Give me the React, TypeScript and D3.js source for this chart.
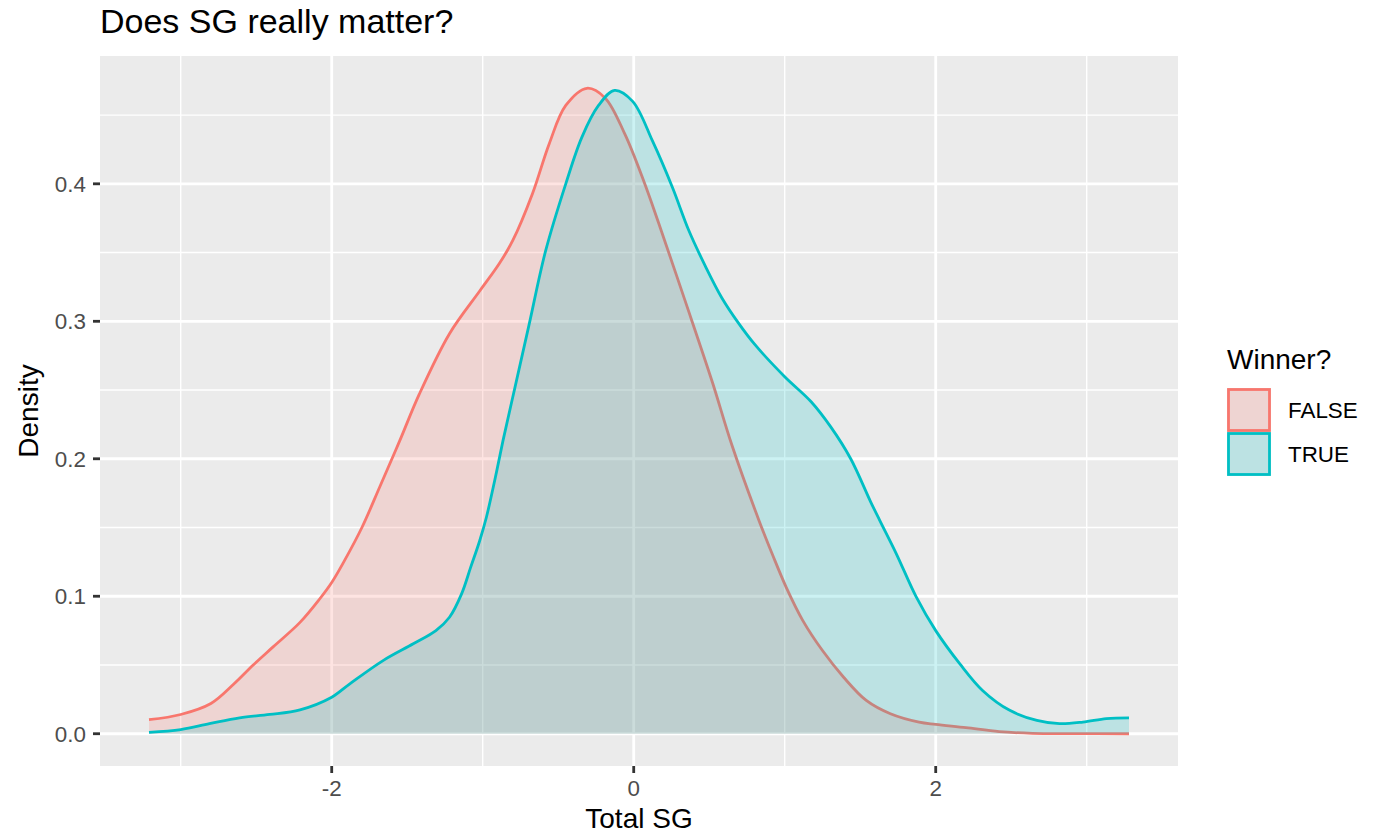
import React, { useLayoutEffect } from "react";
import * as d3 from "d3";

// ---- data ----
const FALSE_X = [-3.21, -3.0, -2.8, -2.65, -2.52, -2.39, -2.21, -2.08, -2.0, -1.92, -1.8, -1.68, -1.55, -1.42, -1.22, -1.02, -0.89, -0.8, -0.67, -0.56, -0.45, -0.31, -0.19, -0.06, 0.07, 0.165, 0.34, 0.52, 0.65, 0.83, 0.92, 1.01, 1.12, 1.25, 1.39, 1.54, 1.7, 1.89, 2.0, 2.2, 2.42, 2.64, 2.9, 3.28];
const FALSE_D = [0.0102, 0.014, 0.022, 0.036, 0.05, 0.063, 0.081, 0.098, 0.11, 0.125, 0.15, 0.18, 0.213, 0.247, 0.291, 0.322, 0.342, 0.359, 0.393, 0.429, 0.457, 0.4695, 0.4625, 0.4365, 0.401, 0.3715, 0.315, 0.256, 0.21, 0.155, 0.13, 0.1065, 0.0823, 0.0605, 0.0411, 0.0242, 0.0145, 0.0084, 0.0068, 0.0044, 0.0015, 0.0003, 0.0001, 0.0];

const TRUE_X = [-3.21, -3.0, -2.81, -2.61, -2.41, -2.21, -2.0, -1.88, -1.66, -1.46, -1.31, -1.22, -1.14, -1.08, -1.02, -0.976, -0.921, -0.866, -0.78, -0.694, -0.584, -0.45, -0.343, -0.233, -0.127, -0.007, 0.125, 0.256, 0.365, 0.475, 0.584, 0.694, 0.803, 1.0, 1.175, 1.306, 1.437, 1.569, 1.63, 1.74, 1.87, 2.0, 2.16, 2.31, 2.49, 2.67, 2.82, 2.975, 3.13, 3.28];
const TRUE_D = [0.001, 0.003, 0.0073, 0.0116, 0.014, 0.0174, 0.0266, 0.0363, 0.0532, 0.0654, 0.075, 0.0847, 0.1017, 0.121, 0.1404, 0.1573, 0.184, 0.213, 0.255, 0.297, 0.351, 0.4, 0.434, 0.457, 0.468, 0.46, 0.431, 0.3975, 0.366, 0.34, 0.317, 0.2987, 0.283, 0.2597, 0.2415, 0.223, 0.2, 0.1687, 0.155, 0.1307, 0.0997, 0.075, 0.0508, 0.0315, 0.017, 0.0097, 0.0073, 0.0085, 0.011, 0.0116];

const GROUPS = ["FALSE", "TRUE"];
const X_TICKS = [-2, 0, 2];
const X_MINOR = [-3, -1, 1, 3];
const Y_TICKS = [0, 0.1, 0.2, 0.3, 0.4];
const Y_MINOR = [0.05, 0.15, 0.25, 0.35, 0.45];

const TITLE = "Does SG really matter?";
const X_TITLE = "Total SG";
const Y_TITLE = "Density";
const LEGEND_TITLE = "Winner?";

const COLORS = ["#F8766D", "#00BFC4"];

const W = 1381;
const H = 833;
const P = { left: 100, right: 1178, top: 56, bottom: 766 };
const FONT = "'Liberation Sans', Arial, Helvetica, sans-serif";

export default function App() {
  useLayoutEffect(() => {
    document.body.style.margin = "0";
  }, []);

  const series = [
    FALSE_X.map((x, i) => ({ x, d: FALSE_D[i] })),
    TRUE_X.map((x, i) => ({ x, d: TRUE_D[i] })),
  ];
  const allX = [...FALSE_X, ...TRUE_X];
  const allD = [...FALSE_D, ...TRUE_D];
  const xmin = d3.min(allX) as number;
  const xmax = d3.max(allX) as number;
  const xr = xmax - xmin;
  const dmax = d3.max(allD) as number;

  const x = d3.scaleLinear().domain([xmin - 0.05 * xr, xmax + 0.05 * xr]).range([P.left, P.right]);
  const y = d3.scaleLinear().domain([-0.05 * dmax, 1.05 * dmax]).range([P.bottom, P.top]);

  const curve = d3.curveCatmullRom.alpha(0.5);
  const area = d3
    .area<{ x: number; d: number }>()
    .x((p) => x(p.x))
    .y0(y(0))
    .y1((p) => y(Math.max(0, p.d)))
    .curve(curve);
  const line = d3
    .line<{ x: number; d: number }>()
    .x((p) => x(p.x))
    .y((p) => y(p.d))
    .curve(curve);

  const keyX = 1227;
  const keyY0 = 388;
  const keySize = 44;

  return (
    <svg width={W} height={H} style={{ display: "block", background: "#fff" }} fontFamily={FONT}>
      <rect x={0} y={0} width={W} height={H} fill="#ffffff" />
      {/* panel */}
      <rect x={P.left} y={P.top} width={P.right - P.left} height={P.bottom - P.top} fill="#EBEBEB" />
      {Y_MINOR.map((t) => (
        <line key={"ym" + t} x1={P.left} x2={P.right} y1={y(t)} y2={y(t)} stroke="#fff" strokeWidth={1.4} />
      ))}
      {X_MINOR.map((t) => (
        <line key={"xm" + t} x1={x(t)} x2={x(t)} y1={P.top} y2={P.bottom} stroke="#fff" strokeWidth={1.4} />
      ))}
      {Y_TICKS.map((t) => (
        <line key={"yg" + t} x1={P.left} x2={P.right} y1={y(t)} y2={y(t)} stroke="#fff" strokeWidth={2.8} />
      ))}
      {X_TICKS.map((t) => (
        <line key={"xg" + t} x1={x(t)} x2={x(t)} y1={P.top} y2={P.bottom} stroke="#fff" strokeWidth={2.8} />
      ))}

      {/* densities */}
      {series.map((s, i) => (
        <g key={GROUPS[i]}>
          <path d={area(s) || ""} fill={COLORS[i]} fillOpacity={0.2} stroke="none" />
          <path d={line(s) || ""} fill="none" stroke={COLORS[i]} strokeWidth={2.8} />
        </g>
      ))}

      {/* axes */}
      {Y_TICKS.map((t) => (
        <g key={"yt" + t}>
          <line x1={P.left - 7} x2={P.left} y1={y(t)} y2={y(t)} stroke="#333333" strokeWidth={2.8} />
          <text x={P.left - 14} y={y(t)} dy="0.36em" textAnchor="end" fontSize={22.4} fill="#4D4D4D">
            {d3.format(".1f")(t)}
          </text>
        </g>
      ))}
      {X_TICKS.map((t) => (
        <g key={"xt" + t}>
          <line x1={x(t)} x2={x(t)} y1={P.bottom} y2={P.bottom + 7} stroke="#333333" strokeWidth={2.8} />
          <text x={x(t)} y={796} textAnchor="middle" fontSize={22.4} fill="#4D4D4D">
            {String(t)}
          </text>
        </g>
      ))}

      <text x={(P.left + P.right) / 2} y={828} textAnchor="middle" fontSize={28} fill="#000">
        {X_TITLE}
      </text>
      <text
        transform={`translate(38, ${(P.top + P.bottom) / 2}) rotate(-90)`}
        textAnchor="middle"
        fontSize={28}
        fill="#000"
      >
        {Y_TITLE}
      </text>

      <text x={P.left} y={33} fontSize={34} fill="#000">
        {TITLE}
      </text>

      {/* legend */}
      <text x={keyX} y={369} fontSize={28} fill="#000">
        {LEGEND_TITLE}
      </text>
      {GROUPS.map((g, i) => (
        <g key={"leg" + g}>
          <rect x={keyX} y={keyY0 + i * keySize} width={keySize} height={keySize} fill="#EBEBEB" />
          <rect
            x={keyX + 1.5}
            y={keyY0 + i * keySize + 1.5}
            width={keySize - 3}
            height={keySize - 3}
            fill={COLORS[i]}
            fillOpacity={0.2}
            stroke={COLORS[i]}
            strokeWidth={2.8}
          />
          <text x={1288} y={keyY0 + i * keySize + keySize / 2} dy="0.36em" fontSize={22.4} fill="#000">
            {g}
          </text>
        </g>
      ))}
    </svg>
  );
}
